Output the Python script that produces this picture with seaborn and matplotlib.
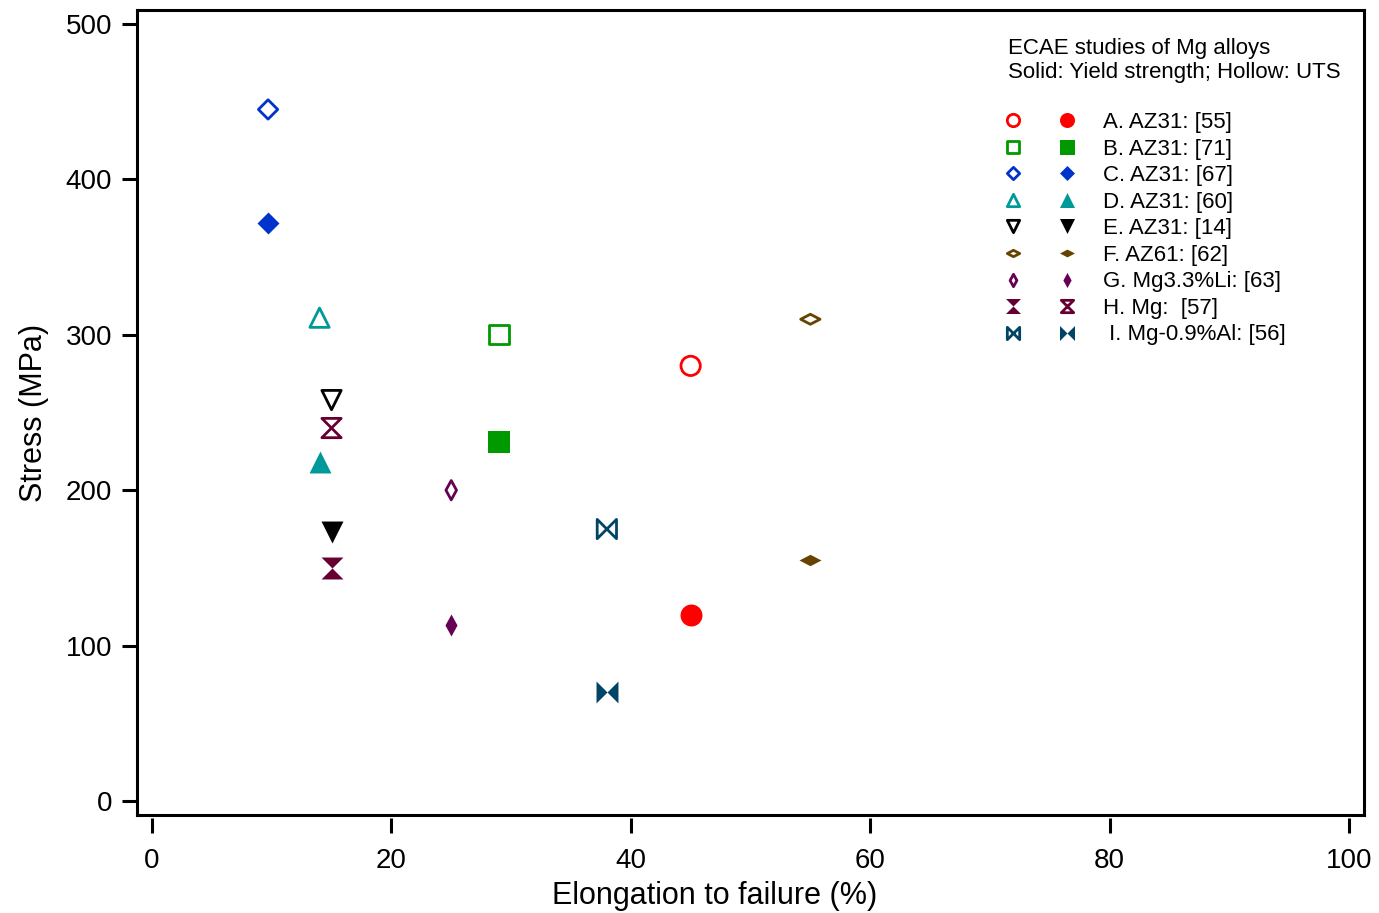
import numpy as np
import pandas as pd
import matplotlib
matplotlib.use("Agg")
import matplotlib.pyplot as plt
from matplotlib.lines import Line2D
from matplotlib.path import Path
from matplotlib.legend_handler import HandlerTuple
import seaborn as sns

# ECAE-processed Mg alloys: elongation to failure vs. strength
labels = [
    "A. AZ31: [55]",
    "B. AZ31: [71]",
    "C. AZ31: [67]",
    "D. AZ31: [60]",
    "E. AZ31: [14]",
    "F. AZ61: [62]",
    "G. Mg3.3%Li: [63]",
    "H. Mg:  [57]",
    " I. Mg-0.9%Al: [56]",
]
elongation = [45, 29, 9.7, 14, 15, 55, 25, 15, 38]            # %
uts = [280, 300, 445, 311, 258, 310, 200, 240, 175]            # MPa (hollow)
yield_strength = [120, 231, 372, 218, 173, 155, 113, 150, 70]  # MPa (solid)

x_ticks = [0, 20, 40, 60, 80, 100]
y_ticks = [0, 100, 200, 300, 400, 500]

colors = ["#FF0000", "#009900", "#0033CC", "#009999", "#000000",
          "#664400", "#660055", "#660033", "#004466"]


def closed(pts):
    """Closed marker outline (matplotlib rescales it to the marker size)."""
    return Path(list(pts) + [pts[0]], closed=True)


square = closed([(-1, -1), (1, -1), (1, 1), (-1, 1)])
diamond = closed([(0, 1), (1, 0), (0, -1), (-1, 0)])
tri_up = closed([(0, 1), (-1, -1), (1, -1)])
tri_down = closed([(0, -1), (-1, 1), (1, 1)])
flat_diamond = closed([(-1, 0), (0, 0.52), (1, 0), (0, -0.52)])
thin_diamond = closed([(0, 1), (0.55, 0), (0, -1), (-0.55, 0)])
hourglass = closed([(-1, 1), (1, 1), (0, 0), (1, -1), (-1, -1), (0, 0)])
bowtie = closed([(-1, 1), (0, 0), (1, 1), (1, -1), (0, 0), (-1, -1)])
markers = ["o", square, diamond, tri_up, tri_down,
           flat_diamond, thin_diamond, hourglass, bowtie]

df = pd.DataFrame({"label": labels, "elong": elongation,
                   "uts": uts, "ys": yield_strength})

sns.set_theme(style="white")
plt.rcParams["font.family"] = ["Liberation Sans", "DejaVu Sans"]
plt.rcParams["text.color"] = "black"
plt.rcParams["axes.labelcolor"] = "black"

fig = plt.figure(figsize=(13.79, 9.13), dpi=100)
ax = fig.add_axes([137 / 1379, 1 - 815 / 913, 1227 / 1379, 805 / 913])

HOLLOW_MS, SOLID_MS, EDGE_LW = 13.9, 15.8, 2.0
hollow_handles, solid_handles = [], []
for i, row in df.iterrows():
    c, m = colors[i], markers[i]
    sns.scatterplot(x=[row.elong], y=[row.uts], marker=m, s=HOLLOW_MS ** 2,
                    color=c, facecolor="none", edgecolor=c,
                    linewidth=EDGE_LW, ax=ax, zorder=3)
    sns.scatterplot(x=[row.elong], y=[row.ys], marker=m, s=SOLID_MS ** 2,
                    color=c, edgecolor=c, linewidth=0, ax=ax, zorder=3)
    hollow_handles.append(Line2D([], [], ls="none", marker=m, ms=8.9,
                                 mfc="none", mec=c, mew=EDGE_LW))
    solid_handles.append(Line2D([], [], ls="none", marker=m, ms=10.8,
                                mfc=c, mec=c, mew=0))

ax.set_xlim(-1.25, 101.25)
ax.set_ylim(-9, 509)

for side in ["left", "right", "top", "bottom"]:
    ax.spines[side].set_visible(True)
    ax.spines[side].set_color("black")
    ax.spines[side].set_linewidth(2.2)

ax.set_yticks(y_ticks)
ax.tick_params(axis="y", left=True, direction="out", length=10.8, width=2.2,
               pad=7, labelsize=20, colors="black")
ax.tick_params(axis="x", bottom=False, labelbottom=False)
ax.set_ylabel("Stress (MPa)", fontsize=22, labelpad=12, color="black")
ax.set_xlabel("")

# detached x axis just below the frame
sec = ax.secondary_xaxis(-0.0037)
sec.spines["bottom"].set_visible(False)
sec.set_xticks(x_ticks)
sec.tick_params(axis="x", direction="out", length=10.8, width=2.2, pad=11,
                labelsize=20, colors="black")
sec.set_xlabel("Elongation to failure (%)", fontsize=22, labelpad=5,
               color="black")
sec.xaxis.label.set_x(0.471)

ax.text(0.7095, 0.9453, "ECAE studies of Mg alloys", transform=ax.transAxes,
        fontsize=16, va="baseline", ha="left", color="black")
ax.text(0.7095, 0.9155, "Solid: Yield strength; Hollow: UTS",
        transform=ax.transAxes, fontsize=16, va="baseline", ha="left",
        color="black")

# H is listed solid-first in the key
pairs = []
for i, lab in enumerate(labels):
    if lab.startswith("H."):
        pairs.append((solid_handles[i], hollow_handles[i]))
    else:
        pairs.append((hollow_handles[i], solid_handles[i]))

leg = ax.legend(pairs, labels,
                handler_map={tuple: HandlerTuple(ndivide=None, pad=0)},
                loc="upper left", bbox_to_anchor=(0.6913, 0.8733),
                frameon=False, fontsize=16, handlelength=4.91,
                handletextpad=0.39, labelspacing=0.25, borderpad=0,
                borderaxespad=0, numpoints=1)
for t in leg.get_texts():
    t.set_color("black")

fig.savefig("out.png", dpi=100)
